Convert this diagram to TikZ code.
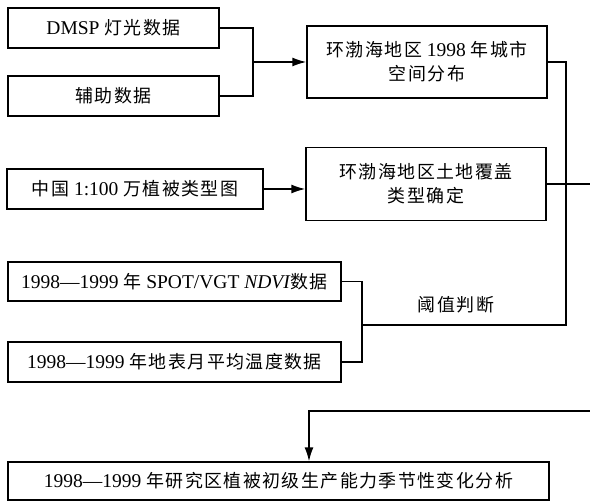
\documentclass[tikz,border=0pt]{standalone}
\usepackage{fontspec}
\setmainfont{Liberation Serif}
\newfontfamily\cjkfont[Scale=0.92,LetterSpace=8]{Noto Sans CJK SC}
\newcommand\cjk[1]{{\cjkfont #1}}
\usetikzlibrary{arrows.meta}
\tikzset{
  box/.style={draw, line width=1.3pt, inner sep=0pt, align=center,
    font=\fontsize{19.5}{24}\selectfont},
  lbl/.style={inner sep=0pt, font=\fontsize{19.5}{24}\selectfont},
  conn/.style={line width=1.6pt},
  arr/.style={conn, -{Latex[length=14pt,width=9pt]}}
}
\begin{document}
\begin{tikzpicture}[x=1pt,y=-1pt]
\useasboundingbox (0,0) rectangle (590,502);
\node[box, minimum width=211pt, minimum height=40pt] (b1) at (113.5,28) {DMSP \cjk{灯光数据}};
\node[box, minimum width=211pt, minimum height=40pt] (b2) at (113.5,96) {\cjk{辅助数据}};
\node[box, minimum width=240pt, minimum height=72pt] (b3) at (427,62) {\cjk{环渤海地区} 1998 \cjk{年城市}\\\cjk{空间分布}};
\node[box, minimum width=240pt, minimum height=73pt] (b4) at (426,184) {\cjk{环渤海地区土地覆盖}\\\cjk{类型确定}};
\node[box, minimum width=256pt, minimum height=40pt] (b5) at (135,189) {\cjk{中国} 1:100 \cjk{万植被类型图}};
\node[box, minimum width=333pt, minimum height=39pt] (b6) at (174.5,281.5) {1998—1999 \cjk{年} SPOT/VGT \textit{NDVI}\cjk{数据}};
\node[box, minimum width=333pt, minimum height=40pt] (b7) at (174.5,362) {1998—1999 \cjk{年地表月平均温度数据}};
\node[box, minimum width=541pt, minimum height=38pt] (b8) at (278.5,481) {1998—1999 \cjk{年研究区植被初级生产能力季节性变化分析}};
\node[lbl] (lab) at (456,305) {\cjk{阈值判断}};
\coordinate (j1) at (253,62);
\coordinate (j2) at (362,325);
\coordinate (r3) at (566,325);
\coordinate (e4) at (590,184);
\coordinate (e8) at (590,411);
\coordinate (t8) at (309,411);
\draw[conn] (b1.east) -| (j1) |- (b2.east);
\draw[arr] (j1) -- (b3.west);
\draw[arr] (b5.east) -- (b5.east -| b4.west);
\draw[conn] (b3.east) -| (r3) -- (j2);
\draw[conn] (b6.east) -| (j2) |- (b7.east);
\draw[conn] (b4.east) -- (e4);
\draw[arr] (e8) -| (b8.north -| t8);
\end{tikzpicture}
\end{document}
